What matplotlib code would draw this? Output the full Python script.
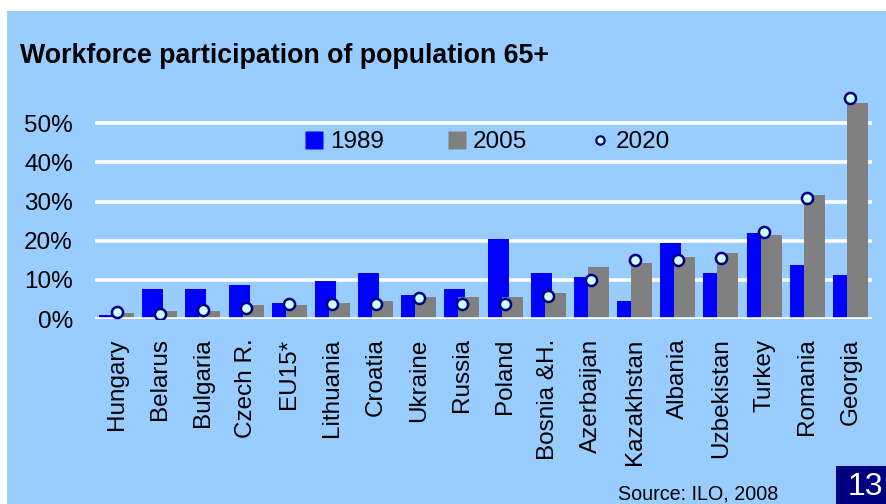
import numpy as np
import matplotlib
matplotlib.use("Agg")
import matplotlib.pyplot as plt
from matplotlib.lines import Line2D
from matplotlib.patches import Rectangle

plt.rcParams['font.family'] = ['Liberation Sans', 'DejaVu Sans']

countries = ["Hungary", "Belarus", "Bulgaria", "Czech R.", "EU15*", "Lithuania",
             "Croatia", "Ukraine", "Russia", "Poland", "Bosnia &H.", "Azerbaijan",
             "Kazakhstan", "Albania", "Uzbekistan", "Turkey", "Romania", "Georgia"]

# values in percent
v1989 = [1.0, 7.6, 7.6, 8.6, 4.1, 9.6, 11.7, 6.1, 7.6, 20.4, 11.7, 10.7,
         4.6, 19.4, 11.7, 21.9, 13.8, 11.2]
v2005 = [1.5, 2.0, 2.0, 3.6, 3.6, 4.1, 4.6, 5.6, 5.6, 5.6, 6.6, 13.3,
         14.3, 15.8, 16.8, 21.4, 31.6, 55.1]
v2020 = [1.8, 1.2, 2.3, 2.7, 3.8, 3.8, 3.8, 5.3, 3.8, 3.8, 5.9, 9.9,
         15.1, 15.0, 15.6, 22.2, 30.9, 56.4]
yticks = [0, 10, 20, 30, 40, 50]

bg = '#99CCFF'
W, H = 887, 504
fig = plt.figure(figsize=(W / 100, H / 100), dpi=100)
fig.patch.set_facecolor('white')
fig.patches.append(Rectangle((7 / W, 0), 1 - 7 / W, 1 - 11 / H, transform=fig.transFigure,
                             facecolor=bg, edgecolor='none', zorder=-5))

ax = fig.add_axes([95 / W, 1 - 319 / H, 777 / W, 235 / H])
ax.set_facecolor(bg)
ax.patch.set_alpha(0)

x = np.arange(len(countries))
bw = 0.487
off = 0.163
ax.bar(x - off, v1989, bw, color='#0000FF', zorder=2)
ax.bar(x + off, v2005, bw, color='#808080', zorder=3)
ax.plot(x, v2020, linestyle='none', marker='o', markersize=8,
        markerfacecolor='#CCFFFF', markeredgecolor='#000080', markeredgewidth=1.8, zorder=4)

for t in yticks:
    ax.axhline(t, color='white', linewidth=2.6, zorder=1 if t else 3.5)

ax.set_xlim(-0.5, len(countries) - 0.5)
ax.set_ylim(0, 60)
ax.set_yticks(yticks)
ax.set_yticklabels([f"{t}%" for t in yticks])
ax.set_xticks(x)
ax.set_xticklabels(countries, rotation=90)
ax.tick_params(axis='both', length=0, labelsize=17.5)
ax.tick_params(axis='y', pad=16)
ax.tick_params(axis='x', pad=14)
for s in ax.spines.values():
    s.set_visible(False)

handles = [
    Line2D([], [], linestyle='none', marker='s', markersize=12.5,
           markerfacecolor='#0000FF', markeredgecolor='none'),
    Line2D([], [], linestyle='none', marker='s', markersize=12.5,
           markerfacecolor='#808080', markeredgecolor='none'),
    Line2D([], [], linestyle='none', marker='o', markersize=6,
           markerfacecolor='#CCFFFF', markeredgecolor='#000080', markeredgewidth=1.6),
]
fig.legend(handles, ["1989", "2005", "2020"], ncol=3, frameon=False,
           loc='center left', bbox_to_anchor=(305 / W, 1 - 142 / H),
           fontsize=17.5, handlelength=0.75, handletextpad=0.3,
           columnspacing=2.6, borderpad=0, borderaxespad=0)

fig.text(20 / W, 1 - 63 / H, "Workforce participation of population 65+",
         fontsize=19.3, fontweight='bold', va='baseline', ha='left')
fig.text(618 / W, 1 - 500 / H, "Source: ILO, 2008", fontsize=14.2,
         va='baseline', ha='left')
fig.patches.append(Rectangle((836 / W, 0), 51 / W, 38 / H, transform=fig.transFigure,
                             facecolor='#000080', edgecolor='none', zorder=1))
fig.text(865 / W, 1 - 495 / H, "13", fontsize=23, color='white',
         va='baseline', ha='center')

fig.savefig("out.png", dpi=100, facecolor=fig.get_facecolor())
